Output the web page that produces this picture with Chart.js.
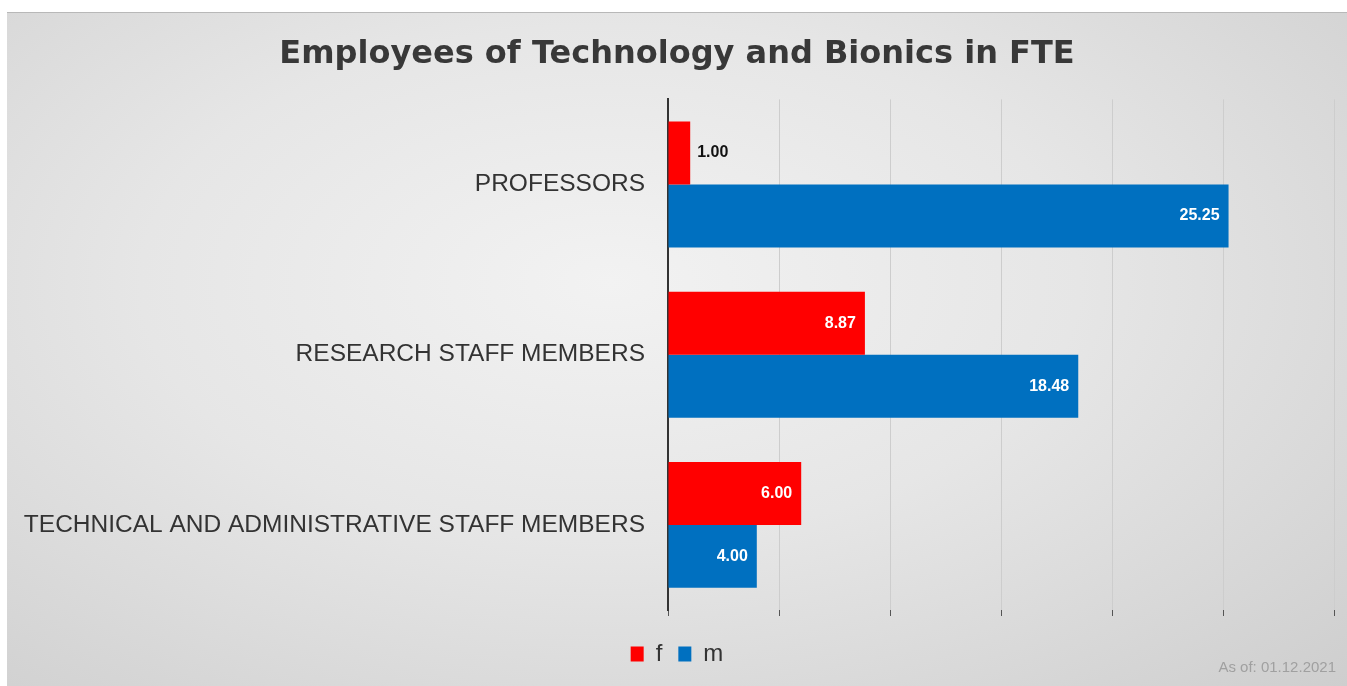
<!DOCTYPE html>
<html lang="en">
<head>
    <meta charset="UTF-8">
    <title>Employees of Technology and Bionics in FTE</title>
    <script src="https://cdn.jsdelivr.net/npm/chart.js"></script>
    <style>
        html, body { margin: 0; padding: 0; background: #fff; }
        #panel {
            position: absolute; left: 7px; top: 12px; width: 1340px; height: 674px;
            background: radial-gradient(ellipse at 45% 40%, #f2f2f2 0%, #e6e6e6 45%, #cecece 100%);
            border-top: 1px solid #b8b8b8;
        }
        #wrap { position: absolute; left: 0; top: 0; width: 1347px; height: 686px; }
    </style>
</head>
<body>
    <div id="panel"></div>
    <div id="wrap"><canvas id="staffChart" width="1347" height="686"></canvas></div>
    <script>
        const categories = ['PROFESSORS', 'RESEARCH STAFF MEMBERS', 'TECHNICAL AND ADMINISTRATIVE STAFF MEMBERS'];
        const female = [1.00, 8.87, 6.00];
        const male = [25.25, 18.48, 4.00];
        const seriesNames = ['f', 'm'];

        // value labels: inside the bar end in white, outside in black if the bar is too short
        const valueLabels = {
            id: 'valueLabels',
            afterDatasetsDraw(chart) {
                const ctx = chart.ctx;
                ctx.save();
                ctx.font = 'bold 16px "Liberation Sans", Arial, sans-serif';
                ctx.textBaseline = 'middle';
                chart.data.datasets.forEach((ds, i) => {
                    chart.getDatasetMeta(i).data.forEach((bar, j) => {
                        const txt = ds.data[j].toFixed(2);
                        const w = ctx.measureText(txt).width;
                        if (bar.width > w + 16) {
                            ctx.fillStyle = '#fff';
                            ctx.textAlign = 'right';
                            ctx.fillText(txt, bar.x - 9, bar.y);
                        } else {
                            ctx.fillStyle = '#111';
                            ctx.textAlign = 'left';
                            ctx.fillText(txt, bar.x + 7, bar.y);
                        }
                    });
                });
                ctx.restore();
            }
        };

        const footNote = {
            id: 'footNote',
            afterDraw(chart) {
                const ctx = chart.ctx;
                ctx.save();
                ctx.font = '15px "Liberation Sans", Arial, sans-serif';
                ctx.fillStyle = '#a0a0a0';
                ctx.textAlign = 'right';
                ctx.textBaseline = 'middle';
                ctx.fillText('As of: 01.12.2021', 1336, 668);
                ctx.restore();
            }
        };

        const ctx = document.getElementById('staffChart').getContext('2d');
        new Chart(ctx, {
            type: 'bar',
            data: {
                labels: categories,
                datasets: [{
                    label: seriesNames[0],
                    data: female,
                    backgroundColor: '#ff0000',
                    categoryPercentage: 0.74,
                    barPercentage: 1.0
                }, {
                    label: seriesNames[1],
                    data: male,
                    backgroundColor: '#0070c0',
                    categoryPercentage: 0.74,
                    barPercentage: 1.0
                }]
            },
            options: {
                indexAxis: 'y',
                responsive: false,
                animation: false,
                layout: { padding: { left: 20, right: 13, top: 0, bottom: 10 } },
                plugins: {
                    title: {
                        display: true,
                        text: 'Employees of Technology and Bionics in FTE',
                        color: '#383838',
                        font: { family: '"DejaVu Sans", sans-serif', size: 32, weight: 'bold' },
                        padding: { top: 35, bottom: 26 }
                    },
                    legend: {
                        position: 'bottom',
                        labels: {
                            color: '#333',
                            boxWidth: 13,
                            boxHeight: 15,
                            padding: 16,
                            font: { family: '"Liberation Sans", Arial, sans-serif', size: 24 }
                        }
                    },
                    tooltip: { enabled: false }
                },
                scales: {
                    x: {
                        min: 0,
                        max: 30,
                        afterFit(axis) { axis.height = 16; },
                        ticks: { display: false, stepSize: 5 },
                        grid: { color: '#cdcdcd', lineWidth: 1, tickColor: '#555', tickLength: 6 },
                        border: { display: false }
                    },
                    y: {
                        afterFit(axis) { axis.width = 648; },
                        grid: { display: false },
                        border: { color: '#333', width: 2 },
                        ticks: {
                            color: '#333',
                            padding: 15,
                            font: { family: '"Liberation Sans", Arial, sans-serif', size: 24.5 }
                        }
                    }
                }
            },
            plugins: [valueLabels, footNote]
        });
    </script>
</body>
</html>
